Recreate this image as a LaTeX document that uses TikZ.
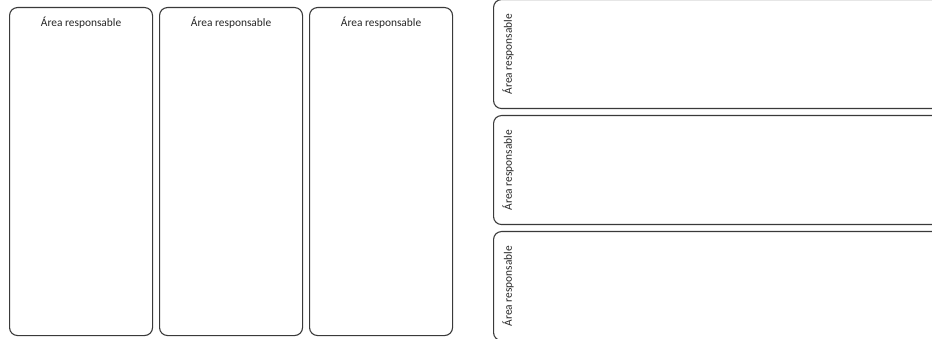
\documentclass[tikz,border=0pt]{standalone}
\usepackage{fontspec}
\setsansfont{Carlito}
\usetikzlibrary{positioning}
\definecolor{arLine}{HTML}{3A3A3A}
\definecolor{arText}{HTML}{262626}
\tikzset{
  ar col/.style={draw=arLine, line width=1.1pt, rounded corners=8pt, minimum width=143pt, minimum height=328pt, inner sep=0pt},
  ar row/.style={draw=arLine, line width=1.1pt, rounded corners=8pt, minimum width=470pt, minimum height=109pt, inner sep=0pt},
  ar label/.style={font=\sffamily\fontsize{11.4}{13}\selectfont, text=arText},
}

\begin{document}
\begin{tikzpicture}[x=1pt,y=-1pt]
\useasboundingbox(0,0)rectangle(932,339);
\clip(0,0)rectangle(932,339);
% columnas
\foreach \i/\x in {1/9,2/159,3/309}{
  \node[ar col,anchor=north west](col\i)at(\x,7){};
  \node[ar label](colt\i)at([yshift=-15.5pt]col\i.north){Área responsable};
}
% filas
\foreach \i/\y in {1/-1,2/115,3/231}{
  \node[ar row,anchor=north west](row\i)at(493,\y){};
  \node[ar label,rotate=90](rowt\i)at([xshift=15pt]row\i.west){Área responsable};
}
\end{tikzpicture}
\end{document}
